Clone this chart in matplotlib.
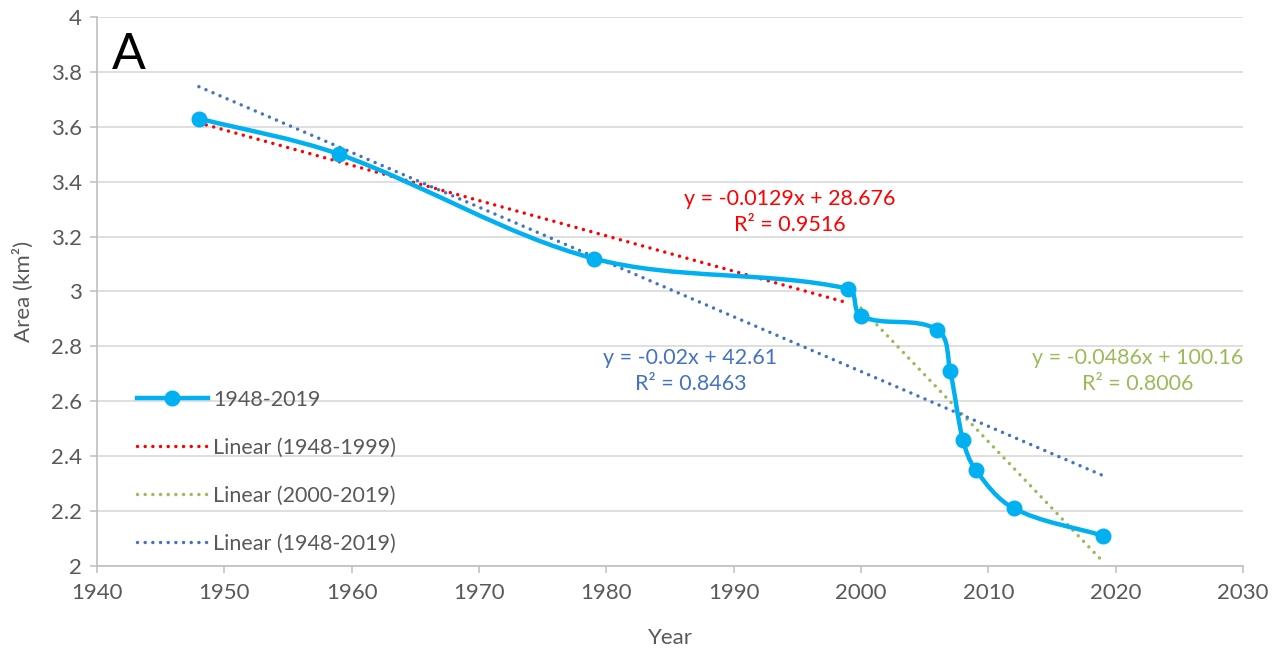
import numpy as np
import matplotlib.pyplot as plt
from matplotlib.path import Path
from matplotlib.patches import PathPatch
from matplotlib.lines import Line2D

plt.rcParams['font.family'] = ['Lato', 'DejaVu Sans']

years = [1948, 1959, 1979, 1999, 2000, 2006, 2007, 2008, 2009, 2012, 2019]
area = [3.63, 3.50, 3.12, 3.01, 2.91, 2.86, 2.71, 2.46, 2.35, 2.21, 2.11]

# trend segments: (label, first year, last year, colour)
trends = [
    ('Linear (1948-1999)', 1948, 1999, '#ff0000'),
    ('Linear (2000-2019)', 2000, 2019, '#9bbb59'),
    ('Linear (1948-2019)', 1948, 2019, '#4472c4'),
]
# where each equation box sits (year, area)
eq_pos = [(1994.4, 3.29), (2021.7, 2.71), (1986.6, 2.71)]

LINE_C = '#00b0f0'
GRAY = '#595959'


def smooth_path(ax, xs, ys):
    """Bezier through the points, tangents from neighbours, built in display space"""
    pts = ax.transData.transform(np.column_stack([xs, ys]))
    n = len(pts)
    tang = []
    for i in range(n):
        d = pts[min(i + 1, n - 1)] - pts[max(i - 1, 0)]
        tang.append(d / np.hypot(*d))
    verts = [pts[0]]
    codes = [Path.MOVETO]
    for i in range(n - 1):
        seg = np.hypot(*(pts[i + 1] - pts[i])) / 3.0
        verts += [pts[i] + tang[i] * seg, pts[i + 1] - tang[i + 1] * seg, pts[i + 1]]
        codes += [Path.CURVE4] * 3
    verts = ax.transData.inverted().transform(np.array(verts))
    return Path(verts, codes)


fig = plt.figure(figsize=(12.8, 6.51), dpi=100)
ax = fig.add_axes([0.0758, 0.1306, 0.8953, 0.8434])
ax.set_xlim(1940, 2030)
ax.set_ylim(2, 4)
ax.set_xticks(np.arange(1940, 2031, 10))
ax.set_yticks(np.arange(2, 4.01, 0.2))
ax.set_yticklabels(['2', '2.2', '2.4', '2.6', '2.8', '3', '3.2', '3.4', '3.6', '3.8', '4'])
ax.grid(axis='y', color='#d9d9d9', lw=1.2)
ax.set_axisbelow(True)
for s in ['top', 'right']:
    ax.spines[s].set_visible(False)
for s in ['left', 'bottom']:
    ax.spines[s].set_color('#bfbfbf')
    ax.spines[s].set_linewidth(1.2)
ax.tick_params(axis='both', colors='#bfbfbf', labelcolor=GRAY, labelsize=16,
               length=5, width=1.1)
ax.tick_params(axis='x', pad=7)
ax.tick_params(axis='y', pad=6)
ax.set_xlabel('Year', fontsize=16, color=GRAY, labelpad=18)
ax.set_ylabel('Area (km²)', fontsize=16, color=GRAY, labelpad=12)

fig.canvas.draw()
x = np.array(years, float)
y = np.array(area, float)
ax.add_patch(PathPatch(smooth_path(ax, x, y), fill=False, ec=LINE_C, lw=3.2,
                       capstyle='round', joinstyle='round', zorder=3))
ax.plot(x, y, 'o', color=LINE_C, ms=10.5, zorder=4)

dots = (0, (0.01, 2.2))
handles = [Line2D([], [], color=LINE_C, lw=3.2, marker='o', ms=10.5)]
labels = ['1948-2019']
for (name, y0, y1, col), (ex, ey) in zip(trends, eq_pos):
    sel = (x >= y0) & (x <= y1)
    k, b = np.polyfit(x[sel], y[sel], 1)
    r2 = np.corrcoef(x[sel], y[sel])[0, 1] ** 2
    xx = np.array([y0, y1])
    ax.plot(xx, k * xx + b, color=col, lw=2.5, ls=dots, dash_capstyle='round', zorder=2)
    sign = '+' if b >= 0 else '-'
    eq = 'y = {:.3g}x {} {:.5g}\nR² = {:.4f}'.format(k, sign, abs(b), r2)
    ax.text(ex, ey, eq, color=col, fontsize=15.5, ha='center', va='center',
            linespacing=1.4)
    handles.append(Line2D([], [], color=col, lw=2.5, ls=dots, dash_capstyle='round'))
    labels.append(name)

ax.legend(handles, labels, loc='upper left', bbox_to_anchor=(0.0985, 0.418),
          bbox_transform=fig.transFigure, frameon=False, fontsize=15.5,
          handlelength=3.3, handletextpad=0.25, labelspacing=1.3, borderpad=0,
          labelcolor=GRAY)

ax.text(1941.2, 3.81, 'A', fontsize=36, color='black', va='baseline')

fig.savefig('out.png', dpi=100)
